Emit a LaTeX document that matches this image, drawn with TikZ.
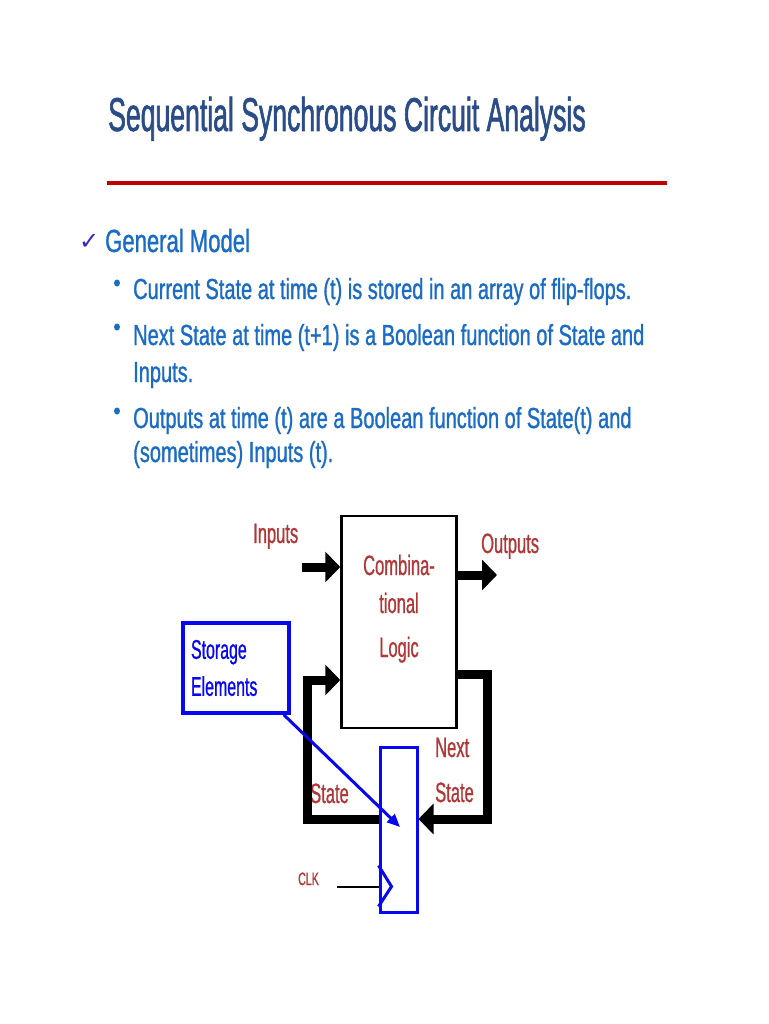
\documentclass[tikz,border=0pt]{standalone}
\usepackage{fontspec}
\usepackage{xcolor}
\usepackage{tikz}
\usetikzlibrary{arrows.meta,positioning}
\setmainfont{Liberation Sans}
\newfontfamily\titlefont[FakeStretch=0.56,FakeBold=1.2]{Liberation Sans}
\newfontfamily\bodyfont[FakeStretch=0.69,FakeBold=1]{Liberation Sans}
\newfontfamily\diagfont[FakeStretch=0.59,FakeBold=0.8]{Liberation Sans}
\newfontfamily\tickfont{DejaVu Sans}
\definecolor{slideTitle}{RGB}{42,76,136}
\definecolor{slideRule}{RGB}{192,0,0}
\definecolor{slideBlue}{RGB}{26,108,196}
\definecolor{tickBlue}{RGB}{48,40,200}
\definecolor{sigRed}{RGB}{176,56,56}
\definecolor{storeBlue}{RGB}{8,8,240}

\tikzset{
  txt/.style={inner sep=0pt, anchor=base west},
  bodytxt/.style={txt, text=slideBlue, font=\bodyfont\fontsize{29}{34}\selectfont},
  sig/.style={txt, text=sigRed, font=\diagfont\fontsize{28}{32}\selectfont},
  dot/.style={ellipse, fill=slideBlue, inner sep=0pt, minimum width=6pt, minimum height=7pt},
  bus/.style={line width=9pt, line join=miter, -{Triangle[length=15pt,width=30pt]}},
}
\usetikzlibrary{shapes.geometric}

\begin{document}
\begin{tikzpicture}[x=1pt,y=-1pt]
    % page
    \useasboundingbox (0,0) rectangle (768,1024);
    \fill[white] (0,0) rectangle (768,1024);

    % title and rule
    \node[txt, text=slideTitle, font=\titlefont\fontsize{47.5}{52}\selectfont] (title) at (108,131) {Sequential Synchronous Circuit Analysis};
    \draw[slideRule, line width=4.5pt] (107,183) -- (667,183);

    % general model
    \node[txt, text=tickBlue, font=\tickfont\fontsize{24}{26}\selectfont] (tick) at (79,249) {✓};
    \node[txt, text=slideBlue, font=\bodyfont\fontsize{32}{36}\selectfont] (model) at (105,252) {General Model};

    % bullets
    \node[dot] (dotA) at (117,283) {};
    \node[dot] (dotB) at (117,327) {};
    \node[dot] (dotC) at (117,411) {};
    \node[bodytxt] (lineA) at (133,299) {Current State at time (t) is stored in an array of flip-flops.};
    \node[bodytxt] (lineB) at (133,345) {Next State at time (t+1) is a Boolean function of State and};
    \node[bodytxt] (lineBb) at (133,382) {Inputs.};
    \node[bodytxt] (lineC) at (133,428) {Outputs at time (t) are a Boolean function of State(t) and};
    \node[bodytxt] (lineCc) at (133,462) {(sometimes) Inputs (t).};

    % combinational logic
    \node[draw, line width=2.5pt, minimum width=115pt, minimum height=212pt, inner sep=0pt] (comb) at (399,622) {};
    \node[sig, anchor=base] (combA) at (399,575) {Combina-};
    \node[sig, anchor=base] (combB) at (399,613) {tional};
    \node[sig, anchor=base] (combC) at (399,657) {Logic};

    % register and storage note
    \node[draw=storeBlue, line width=3pt, minimum width=37pt, minimum height=165pt, inner sep=0pt] (reg) at (398.5,829.5) {};
    \node[draw=storeBlue, line width=3.5pt, text=storeBlue, font=\diagfont\fontsize{27}{37}\selectfont,
          align=left, text width=90pt, inner xsep=8pt, inner ysep=0pt, minimum height=90pt] (store) at (236,668) {Storage\\Elements};

    % labels
    \node[sig] (inLbl) at (253,543) {Inputs};
    \node[sig] (outLbl) at (481,553) {Outputs};
    \node[sig] (stLbl) at (310,803) {State};
    \node[sig] (nextLbl) at (435,757) {Next};
    \node[sig] (nstLbl) at (435,802) {State};
    \node[sig, font=\diagfont\fontsize{18}{20}\selectfont] (clkLbl) at (298,885) {CLK};

    % signal paths
    \coordinate (inTail) at (302,567);
    \coordinate (outTip) at (497,575);
    \coordinate (nsTop) at (487,674);
    \coordinate (nsBot) at (487,819);
    \coordinate (sBot) at (307,819);
    \coordinate (sTop) at (307,680);
    \draw[bus] (inTail) -- (inTail -| comb.west);
    \draw[bus] (comb.east |- outTip) -- (outTip);
    \draw[bus] (comb.east |- nsTop) -- (nsTop) -- (nsBot) -- (reg.east |- nsBot);
    \draw[bus] (reg.west |- sBot) -- (sBot) -- (sTop) -- (comb.west |- sTop);

    % clock
    \coordinate (clkTail) at (337,887);
    \draw[line width=2.5pt] (clkTail) -- (clkTail -| reg.west);
    \draw[storeBlue, line width=3pt] ([yshift=48pt]reg.south west) -- ([shift={(13pt,27pt)}]reg.south west) -- ([yshift=7pt]reg.south west);

    % pointer
    \coordinate (regMark) at (400,827);
    \draw[storeBlue, line width=3pt, -{Triangle[length=13pt,width=11pt]}] ([xshift=-7pt]store.south east) -- (regMark);
\end{tikzpicture}
\end{document}
